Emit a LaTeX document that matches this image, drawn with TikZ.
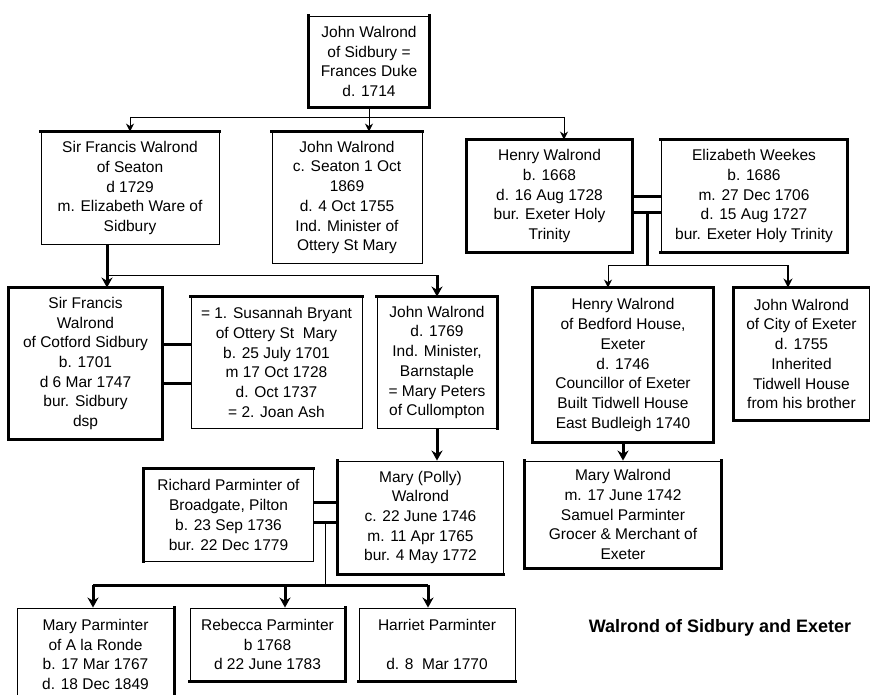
\documentclass[tikz,border=0pt]{standalone}
\usepackage{fontspec}
\setmainfont{Liberation Sans}
\usetikzlibrary{arrows.meta}
\tikzset{
  box/.style={draw, line width=0.9pt, inner sep=0pt, align=center, font=\fontsize{15.5}{19.7}\selectfont},
  thk/.style={line width=2.6pt, line cap=rect, line join=miter},
  thinline/.style={line width=0.9pt},
  thickline/.style={line width=3pt},
  tarr/.style={line width=0.9pt, -{Stealth[length=8pt,width=8pt]}},
  marr/.style={line width=1.8pt, -{Stealth[length=9pt,width=9pt]}},
  karr/.style={line width=3pt, -{Stealth[length=10pt,width=11pt]}},
  title/.style={font=\bfseries\fontsize{18}{21}\selectfont}
}
\newcommand{\famnode}[6]{\node[box, minimum width={(#4)-(#2)}, minimum height={(#5)-(#3)}] (#1) at ({((#2)+(#4))/2},{((#3)+(#5))/2}) {#6};}
\begin{document}
\begin{tikzpicture}[x=1pt,y=-1pt]
\useasboundingbox (0,0) rectangle (870,695);
% boxes
\famnode{top}{309}{16}{429}{107}{John Walrond\\of Sidbury =\\Frances Duke\\d. 1714}
\famnode{sfs}{41}{132}{219}{244}{Sir Francis Walrond\\of Seaton\\d 1729\\m. Elizabeth Ware of\\Sidbury}
\famnode{jws}{272}{132}{422}{263}{John Walrond\\c. Seaton 1 Oct\\1869\\d. 4 Oct 1755\\Ind. Minister of\\Ottery St Mary}
\famnode{henry}{467}{140}{632}{252}{Henry Walrond\\b. 1668\\d. 16 Aug 1728\\bur. Exeter Holy\\Trinity}
\famnode{eliz}{661}{140}{847}{252}{Elizabeth Weekes\\b. 1686\\m. 27 Dec 1706\\d. 15 Aug 1727\\bur. Exeter Holy Trinity}
\famnode{sfc}{9}{288}{162}{439}{Sir Francis\\Walrond\\of Cotford Sidbury\\b. 1701\\d 6 Mar 1747\\bur. Sidbury\\dsp}
\famnode{sus}{191}{297}{362}{428}{= 1. Susannah Bryant\\of Ottery St~~Mary\\b. 25 July 1701\\m 17 Oct 1728\\d. Oct 1737\\= 2. Joan Ash}
\famnode{jwb}{377}{297}{497}{428}{John Walrond\\d. 1769\\Ind. Minister,\\Barnstaple\\= Mary Peters\\of Cullompton}
\famnode{hb}{533}{288}{713}{442}{Henry Walrond\\of Bedford House,\\Exeter\\d. 1746\\Councillor of Exeter\\Built Tidwell House\\East Budleigh 1740}
\famnode{jc}{734}{288}{869}{420}{John Walrond\\of City of Exeter\\d. 1755\\Inherited\\Tidwell House\\from his brother}
\famnode{richard}{144}{469}{313}{561}{Richard Parminter of\\Broadgate, Pilton\\b. 23 Sep 1736\\bur. 22 Dec 1779}
\famnode{polly}{338}{461}{503}{574}{Mary (Polly)\\Walrond\\c. 22 June 1746\\m. 11 Apr 1765\\bur. 4 May 1772}
\famnode{mw}{525}{461}{721}{568}{Mary Walrond\\m. 17 June 1742\\Samuel Parminter\\Grocer \& Merchant of\\Exeter}
\famnode{mp}{17}{608}{174}{701}{Mary Parminter\\of A la Ronde\\b. 17 Mar 1767\\d. 18 Dec 1849}
\famnode{reb}{190}{608}{345}{681}{Rebecca Parminter\\b 1768\\d 22 June 1783}
\famnode{har}{359}{608}{515}{681}{Harriet Parminter\\\mbox{}\\d. 8~~Mar 1770}
\node[title] (ttl) at (720,628) {Walrond of Sidbury and Exeter};
% thick edges
\draw[thk] (top.north west) -- (top.south west) -- (top.south east) -- (top.north east);
\draw[thk] (sfs.north west) -- (sfs.north east);
\draw[thk] (jws.north west) -- (jws.north east);
\draw[thk] (henry.north west) rectangle (henry.south east);
\draw[thk] (eliz.north west) -- (eliz.north east) -- (eliz.south east) -- (eliz.south west);
\draw[thk] (sfc.north west) rectangle (sfc.south east);
\draw[thk] (sus.north west) -- (sus.north east);
\draw[thk] (jwb.north west) -- (jwb.north east) -- (jwb.south east);
\draw[thk] (hb.north west) rectangle (hb.south east);
\draw[thk] (jc.north east) -- (jc.north west) -- (jc.south west) -- (jc.south east);
\draw[thk] (richard.south west) -- (richard.north west) -- (richard.north east);
\draw[thk] (polly.north west) -- (polly.south west) -- (polly.south east);
\draw[thk] (mw.north west) -- (mw.south west) -- (mw.south east) -- (mw.north east);
\draw[thk] (mp.north east) -- (mp.south east);
\draw[thk] (reb.north east) -- (reb.south east) -- (reb.south west);
\draw[thk] (har.south west) -- (har.south east);
% generation 1
\coordinate (b1) at (369,117);
\coordinate (b1l) at (130,117);
\coordinate (b1r) at (564,117);
\draw[thinline] (top.south) -- (b1);
\draw[thinline] (b1l) -- (b1r);
\draw[tarr] (b1l) -- (b1l |- sfs.north);
\draw[tarr] (b1) -- (b1 |- jws.north);
\draw[tarr] (b1r) -- (b1r |- henry.north);
% Sir Francis of Seaton's children
\coordinate (b2l) at (107,275);
\coordinate (b2r) at (437,275);
\draw[thickline] (b2l |- sfs.south) -- (b2l);
\draw[thinline] (b2l) -- (b2r);
\draw[karr] (b2l) -- (b2l |- sfc.north);
\draw[karr] (b2r) -- (b2r |- jwb.north);
% marriage Sir Francis = Susannah
\coordinate (m1) at (0,344);
\coordinate (m2) at (0,383);
\draw[thickline] (sfc.east |- m1) -- (sus.west |- m1);
\draw[thickline] (sfc.east |- m2) -- (sus.west |- m2);
% marriage Henry = Elizabeth
\coordinate (hm1) at (0,197);
\coordinate (hm2) at (0,213);
\draw[thickline] (henry.east |- hm1) -- (eliz.west |- hm1);
\draw[thickline] (henry.east |- hm2) -- (eliz.west |- hm2);
\coordinate (hv) at (647,213);
\coordinate (hbus) at (647,265);
\coordinate (hbl) at (608,265);
\coordinate (hbr) at (788,265);
\draw[thickline] (hv) -- (hbus);
\draw[thinline] (hbl) -- (hbr);
\draw[tarr] (hbl) -- (hbl |- hb.north);
\draw[marr] (hbr) -- (hbr |- jc.north);
% John d.1769 -> Polly
\draw[karr] (jwb.south) -- (jwb.south |- polly.north);
% Henry of Bedford -> Mary Walrond
\draw[karr] (hb.south) -- (hb.south |- mw.north);
% marriage Richard = Polly
\coordinate (rm1) at (0,502);
\coordinate (rm2) at (0,522);
\draw[thickline] (richard.east |- rm1) -- (polly.west |- rm1);
\draw[thickline] (richard.east |- rm2) -- (polly.west |- rm2);
\coordinate (rv) at (325,522);
\coordinate (rbus) at (325,585);
\coordinate (rbl) at (93,585);
\coordinate (rbm) at (285,585);
\coordinate (rbr) at (428,585);
\draw[thinline] (rv) -- (rbus);
\draw[thickline] (rbl) -- (rbr);
\draw[karr] (rbl) -- (rbl |- mp.north);
\draw[karr] (rbm) -- (rbm |- reb.north);
\draw[karr] (rbr) -- (rbr |- har.north);
\end{tikzpicture}
\end{document}
